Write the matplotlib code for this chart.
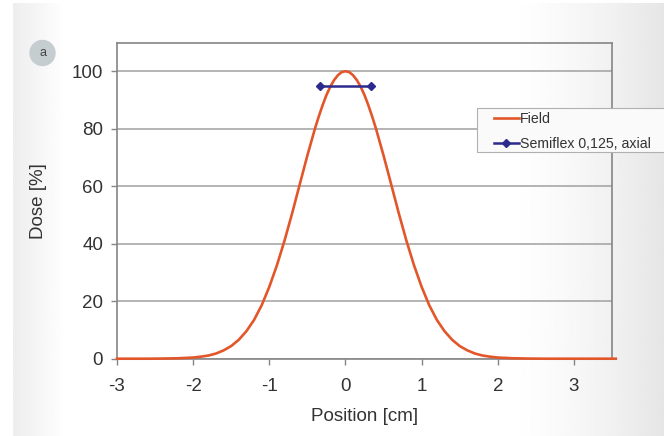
import numpy as np
import matplotlib
matplotlib.use("Agg")
import matplotlib.pyplot as plt
from matplotlib.patches import Ellipse, Rectangle

plt.rcParams['font.family'] = ['Liberation Sans', 'DejaVu Sans']

position = [-3.0, -2.8, -2.6, -2.4, -2.2, -2.0, -1.9, -1.8, -1.7, -1.6, -1.5,
            -1.4, -1.3, -1.2, -1.1, -1.0, -0.9, -0.8, -0.7, -0.6, -0.5, -0.4,
            -0.35, -0.3, -0.25, -0.2, -0.15, -0.1, -0.05, 0.0, 0.05, 0.1,
            0.15, 0.2, 0.25, 0.3, 0.35, 0.4, 0.5, 0.6, 0.7, 0.8,
            0.9, 1.0, 1.1, 1.2, 1.3, 1.4, 1.5, 1.6, 1.7, 1.8, 1.9, 2.0, 2.2,
            2.4, 2.6, 2.8, 3.0, 3.2, 3.55]
dose = [0.0, 0.0, 0.0, 0.05, 0.15, 0.4, 0.7, 1.1, 1.8, 2.9, 4.4,
        6.6, 9.6, 13.5, 18.6, 25.0, 32.5, 41.1, 50.6, 60.7, 70.7, 80.1,
        84.3, 88.2, 91.7, 94.6, 96.9, 98.6, 99.7, 100.0, 99.7, 98.6,
        96.9, 94.6, 91.7, 88.2, 84.3, 80.1, 70.7, 60.7, 50.6, 41.1,
        32.5, 25.0, 18.6, 13.5, 9.6, 6.6, 4.4, 2.9, 1.8, 1.1, 0.7, 0.4, 0.15,
        0.05, 0.0, 0.0, 0.0, 0.0, 0.0]

# chamber extent (Semiflex 0,125, axial)
chamber_x = [-0.33, 0.33]
chamber_y = [95, 95]

xticks = [-3, -2, -1, 0, 1, 2, 3]
yticks = [0, 20, 40, 60, 80, 100]

fig = plt.figure(figsize=(6.64, 4.36), dpi=100)
fig.patch.set_facecolor('white')

# background panel with gray gradient at the edges
bg = fig.add_axes([13/664, 0, 1 - 13/664, 1 - 3/436], zorder=-10)
u = np.linspace(0, 1, 600)
g = np.ones_like(u)
g = g - 0.07 * np.clip(1 - u / 0.08, 0, 1)
g = g - 0.10 * np.clip((u - 0.75) / 0.25, 0, 1) ** 1.5
bg.imshow(np.tile(g, (2, 1)), cmap='gray', vmin=0, vmax=1, aspect='auto',
          extent=[0, 1, 0, 1])
bg.axis('off')

ax = fig.add_axes([117/664, 1 - 358.7/436, (612 - 117)/664, (358.7 - 42.5)/436])
ax.set_facecolor('none')

ax.plot(position, dose, color='#e2562a', lw=1.9, label='Field', zorder=3,
        clip_on=False)
ax.plot(chamber_x, chamber_y, color='#2b2b8e', lw=1.8, marker='D',
        markersize=4.2, label='Semiflex 0,125, axial', zorder=4)

ax.set_xlim(-3, 3.5)
ax.set_ylim(0, 110)
ax.set_xticks(xticks)
ax.set_yticks(yticks)
ax.set_xticklabels([str(t) for t in xticks])
ax.yaxis.grid(True, color='#a0a0a0', lw=1.1)
ax.set_axisbelow(True)
for s in ax.spines.values():
    s.set_color('#858585')
    s.set_linewidth(1.2)
ax.tick_params(colors='#858585', labelcolor='#333333', labelsize=13.5,
               length=4, width=1)
ax.tick_params(axis='x', pad=10)
ax.tick_params(axis='y', pad=6)
ax.set_xlabel('Position [cm]', fontsize=13.5, color='#333333', labelpad=9)
ax.set_ylabel('Dose [%]', fontsize=13.5, color='#333333', labelpad=18)

# legend box runs off the right edge of the figure
fig.add_artist(Rectangle((477/664, 1 - 152/436), 200/664, 44/436,
                         transform=fig.transFigure, facecolor='#fafafa',
                         edgecolor='#b0b0b0', lw=0.8, zorder=6))
leg = fig.legend(loc='upper left', bbox_to_anchor=(494/664, 1 - 112/436),
                 fontsize=10.2, frameon=False, handlelength=1.75,
                 handletextpad=0.1, borderpad=0.0, labelspacing=0.75,
                 borderaxespad=0)
leg.set_zorder(7)
for t in leg.get_texts():
    t.set_color('#333333')

fig.add_artist(Ellipse((42.5/664, 1 - 53/436), 25/664, 25/436,
                       transform=fig.transFigure, color='#c6cdd1', zorder=5))
fig.text(42.5/664, 1 - 53.5/436, 'a', fontsize=9, color='#444444',
         ha='center', va='center', zorder=6)

fig.savefig('out.png', dpi=100)
